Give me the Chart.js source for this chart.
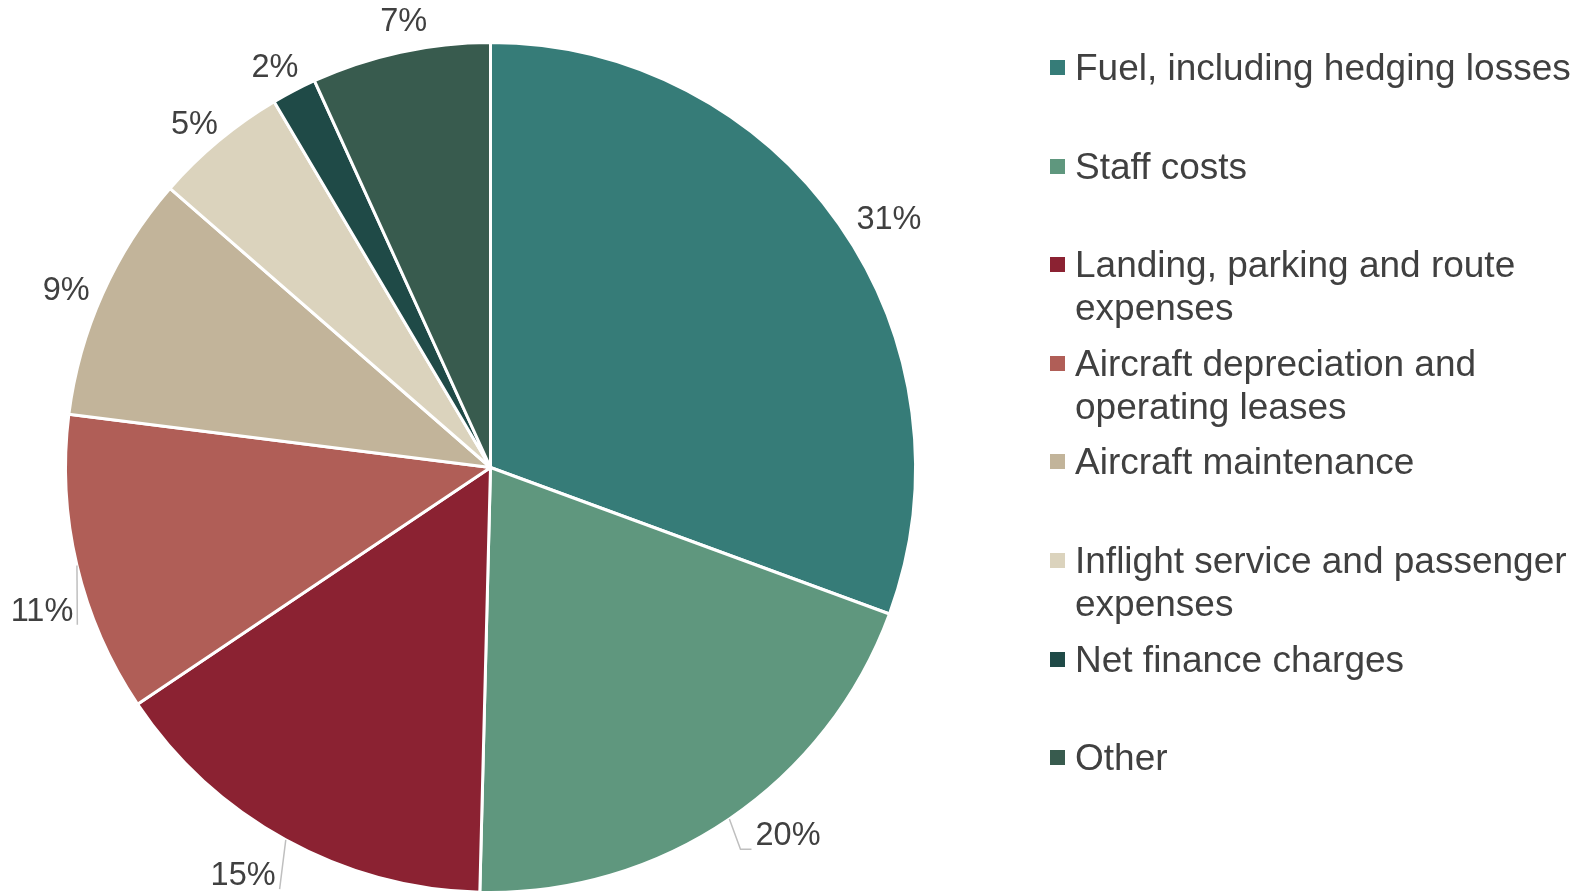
<!DOCTYPE html>
<html>
<head>
<meta charset="utf-8">
<title>Cost breakdown</title>
<script src="https://cdn.jsdelivr.net/npm/chart.js@4.4.1/dist/chart.umd.min.js"></script>
<style>
    html, body { margin: 0; padding: 0; background: #fff; }
    #wrap { position: relative; width: 1583px; height: 893px; overflow: hidden; }
    #grafico { position: absolute; left: 0; top: 0; }
    #leyenda { position: absolute; left: 1050px; top: 46px; font-family: "Liberation Sans", Arial, sans-serif; font-size: 37px; color: #404040; }
    .item { position: relative; height: 98.6px; }
    .cuadro { position: absolute; left: 0; top: 14px; width: 15px; height: 15px; }
    .texto { position: absolute; left: 25px; top: 0; width: 510px; line-height: 43px; white-space: normal; }
</style>
</head>
<body>
<div id="wrap">
    <canvas id="grafico" width="1583" height="900"></canvas>
    <div id="leyenda"></div>
</div>
<script>
// Datos del gráfico (porcentaje de costes)
const categorias = [
    "Fuel, including hedging losses",
    "Staff costs",
    "Landing, parking and route expenses",
    "Aircraft depreciation and operating leases",
    "Aircraft maintenance",
    "Inflight service and passenger expenses",
    "Net finance charges",
    "Other"
];
const valores = [30.6, 19.8, 15.2, 11.4, 9.4, 5.1, 1.7, 6.8];

// Colores de cada porción
const colores = ["#367C78", "#5F977E", "#8B2232", "#B05E57", "#C2B49A", "#DBD3BD", "#1F4A47", "#385B4E"];

// Ajustes de posición de las etiquetas (grados y píxeles) y si llevan línea guía
const desplazamientoAngulo = [3.1, -4.7, 2.4, -4.5, -1.5, -1.1, -0.8, 1.2];
const desplazamientoRadio = [-1, 8, 14.5, 1.6, -2.6, -8, -3.5, 1.3];
const conLinea = [false, true, true, true, false, false, false, false];

// Plugin para dibujar los porcentajes fuera del círculo
const etiquetasExternas = {
    id: "etiquetasExternas",
    afterDatasetsDraw(chart) {
        const ctx = chart.ctx;
        const meta = chart.getDatasetMeta(0);
        const total = valores.reduce((a, b) => a + b, 0);
        ctx.save();
        ctx.font = '32.5px "Liberation Sans", Arial, sans-serif';
        ctx.textAlign = "center";
        ctx.textBaseline = "middle";
        meta.data.forEach((arc, i) => {
            const { x, y, startAngle, endAngle, outerRadius } =
                arc.getProps(["x", "y", "startAngle", "endAngle", "outerRadius"], true);
            const texto = Math.round(valores[i] / total * 100) + "%";
            const w = ctx.measureText(texto).width;
            const h = 24;
            const medio = (startAngle + endAngle) / 2;
            const a = medio + desplazamientoAngulo[i] * Math.PI / 180;
            const cos = Math.cos(a), sin = Math.sin(a);
            const d = outerRadius + 11 + Math.abs(cos) * w / 2 + Math.abs(sin) * h / 2 + desplazamientoRadio[i];
            const lx = x + cos * d;
            const ly = y + sin * d;

            // Línea guía desde el borde del círculo hasta la etiqueta
            if (conLinea[i]) {
                const px = x + Math.cos(medio) * outerRadius;
                const py = y + Math.sin(medio) * outerRadius;
                const izquierda = lx < x;
                const qx = izquierda ? lx + w / 2 + 4 : lx - w / 2 - 4;
                const qy = ly + h / 2 + 1;
                ctx.strokeStyle = "#BFBFBF";
                ctx.lineWidth = 1.5;
                ctx.beginPath();
                ctx.moveTo(px, py);
                if (!izquierda) {
                    // codo horizontal para las etiquetas de la derecha
                    ctx.lineTo(qx - 11, qy);
                }
                ctx.lineTo(qx, qy);
                ctx.stroke();
            }

            ctx.fillStyle = "#404040";
            ctx.fillText(texto, lx, ly);
        });
        ctx.restore();
    }
};

const ctx = document.getElementById("grafico").getContext("2d");

new Chart(ctx, {
    type: "pie",
    data: {
        labels: categorias,
        datasets: [{
            data: valores,
            backgroundColor: colores,
            borderColor: "#FFFFFF",
            borderWidth: 3,
            hoverOffset: 0
        }]
    },
    options: {
        responsive: false,
        animation: false,
        events: [],
        layout: { padding: { left: 64, right: 666, top: 41, bottom: 6 } },
        plugins: {
            legend: { display: false },
            tooltip: { enabled: false }
        }
    },
    plugins: [etiquetasExternas]
});

// Leyenda en HTML (permite el ajuste de líneas)
const leyenda = document.getElementById("leyenda");
categorias.forEach((nombre, i) => {
    const item = document.createElement("div");
    item.className = "item";
    const cuadro = document.createElement("div");
    cuadro.className = "cuadro";
    cuadro.style.background = colores[i];
    const texto = document.createElement("div");
    texto.className = "texto";
    texto.textContent = nombre;
    item.appendChild(cuadro);
    item.appendChild(texto);
    leyenda.appendChild(item);
});
</script>
</body>
</html>
